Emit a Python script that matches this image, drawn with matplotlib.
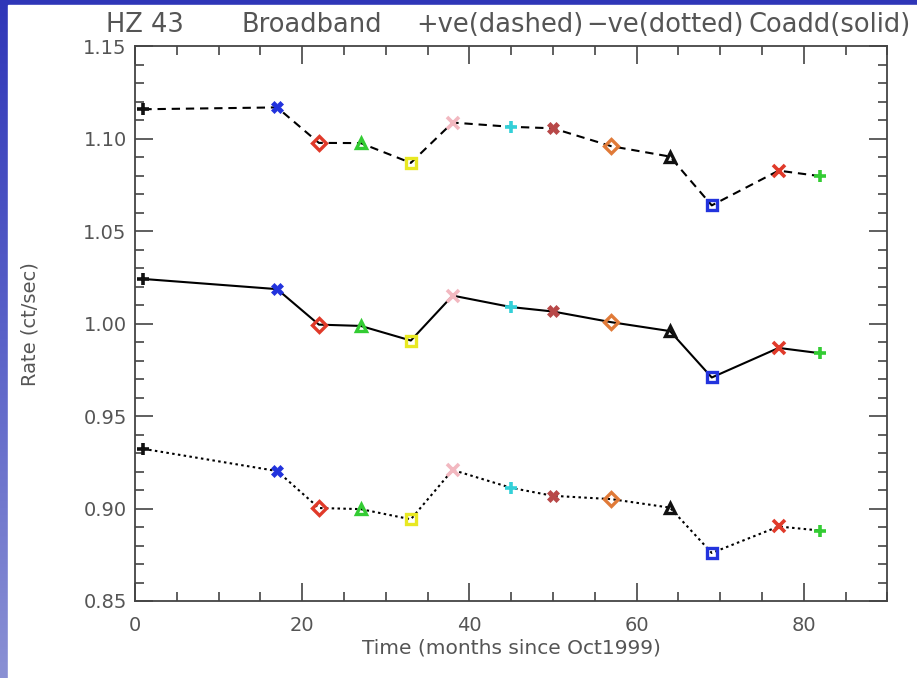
import numpy as np
import matplotlib
matplotlib.use("Agg")
import matplotlib.pyplot as plt
from matplotlib.patches import Rectangle
from matplotlib.colors import LinearSegmentedColormap

# ---- data ----
months = [1, 17, 22, 27, 33, 38, 45, 50, 57, 64, 69, 77, 82]
rate_pos = [1.1160, 1.1170, 1.0978, 1.0977, 1.0870, 1.1088, 1.1065, 1.1057, 1.0960, 1.0904, 1.0640, 1.0828, 1.0798]
rate_coadd = [1.0242, 1.0187, 0.9995, 0.9988, 0.9909, 1.0152, 1.0090, 1.0066, 1.0008, 0.9960, 0.9709, 0.9869, 0.9840]
rate_neg = [0.9323, 0.9203, 0.9003, 0.8997, 0.8942, 0.9209, 0.9112, 0.9069, 0.9051, 0.9005, 0.8760, 0.8903, 0.8881]
point_colors = ['#111111', '#2233dd', '#e03a2a', '#33cc33', '#e8e822', '#f2b8c0',
                '#33d0d8', '#b84848', '#e07a38', '#111111', '#2233dd', '#e03a2a', '#33cc33']
point_markers = ['+', 'X', 'D', '^', 's', 'x', '+', 'X', 'D', '^', 's', 'x', '+']
title_parts = ["HZ 43", "Broadband", "+ve(dashed)", "\u2212ve(dotted)", "Coadd(solid)"]
xlabel = "Time (months since Oct1999)"
ylabel = "Rate (ct/sec)"

plt.rcParams['font.family'] = ['DejaVu Sans']
txt = '#555555'

W, H = 917, 678
fig = plt.figure(figsize=(W / 100, H / 100), dpi=100)

# background: blue slide strip + white page
bg = fig.add_axes([0, 0, 1, 1], zorder=-10)
grad = np.linspace(0, 1, 256).reshape(-1, 1)
cm = LinearSegmentedColormap.from_list('slide', ['#2f36b8', '#5a62c8', '#8a90d4'])
bg.imshow(grad, aspect='auto', cmap=cm, extent=[0, 1, 0, 1], origin='upper')
bg.add_patch(Rectangle((8 / W, 0), 1, 1 - 5 / H, color='white', zorder=2))
bg.set_xlim(0, 1); bg.set_ylim(0, 1)
bg.axis('off')

ax = fig.add_axes([135 / W, 1 - 601 / H, (887.3 - 135) / W, (601 - 46.4) / H])
ax.set_facecolor('white')

ax.plot(months, rate_pos, color='black', lw=1.5, ls=(0, (4, 2.8)), zorder=2)
ax.plot(months, rate_coadd, color='black', lw=1.5, ls='-', zorder=2)
ax.plot(months, rate_neg, color='black', lw=1.5, ls=(0, (1.2, 1.6)), zorder=2)

for series in (rate_pos, rate_coadd, rate_neg):
    for x, y, c, m in zip(months, series, point_colors, point_markers):
        if m in ('+', 'x'):
            ax.plot([x], [y], marker=m, color=c, ms=8, mew=2.6, ls='none', zorder=3)
        elif m == 'X':
            ax.plot([x], [y], marker=m, color=c, mec=c, ms=9, mew=0.5, ls='none', zorder=3)
        else:
            ax.plot([x], [y], marker=m, mec=c, mfc='none', ms=7, mew=2.4, ls='none', zorder=3)

ax.set_xlim(0, 90)
ax.set_ylim(0.85, 1.15)
ax.set_xticks([0, 20, 40, 60, 80])
ax.set_xticks(np.arange(0, 91, 5), minor=True)
ax.set_yticks([0.85, 0.90, 0.95, 1.00, 1.05, 1.10, 1.15])
ax.set_yticks(np.arange(0.85, 1.1501, 0.01), minor=True)
ax.set_yticklabels(['0.85', '0.90', '0.95', '1.00', '1.05', '1.10', '1.15'])
ax.tick_params(which='both', direction='in', top=True, right=True, colors='#444444',
               labelcolor=txt, labelsize=14, width=1.2)
ax.tick_params(which='major', length=13)
ax.tick_params(axis='x', which='major', pad=11)
ax.tick_params(axis='y', which='major', pad=6)
ax.tick_params(which='minor', length=6.5)
for s in ax.spines.values():
    s.set_color('#444444')
    s.set_linewidth(1.3)

ax.set_xlabel(xlabel, color=txt, fontsize=14.5)
ax.set_ylabel(ylabel, color=txt, fontsize=14)
ax.xaxis.set_label_coords(0.5, -(648 - 601) / (601 - 46.4))
ax.yaxis.set_label_coords((30 - 135) / (887.3 - 135), 0.5)
ax.xaxis.label.set_va('center')
ax.yaxis.label.set_va('center')

title_x = [145, 312, 500, 665, 830]
for s, xp in zip(title_parts, title_x):
    fig.text(xp / W, 1 - 25 / H, s, color=txt, fontsize=18.5, ha='center', va='center')

fig.savefig('out.png', dpi=100)
